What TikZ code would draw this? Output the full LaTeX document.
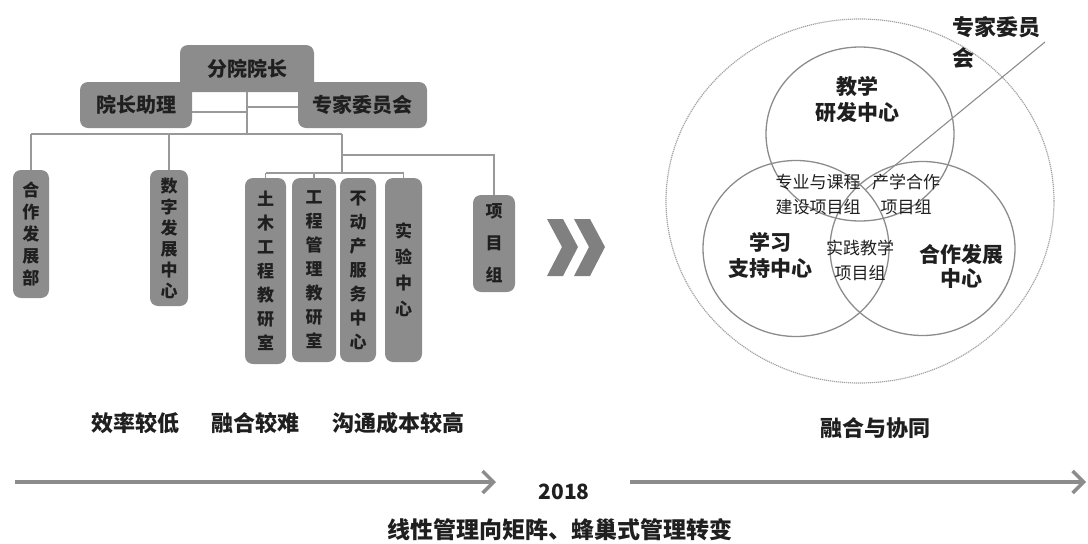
\documentclass[tikz,border=0pt]{standalone}
\usepackage{fontspec}
\setmainfont{Noto Sans CJK SC}
\usetikzlibrary{arrows.meta,shapes.geometric}
\definecolor{boxgray}{gray}{0.55}
\definecolor{linegray}{gray}{0.6}
\definecolor{ringgray}{gray}{0.55}
\definecolor{txtdark}{gray}{0.12}
\begin{document}
\begin{tikzpicture}[x=1pt,y=-1pt,
  box/.style={rectangle, rounded corners=8pt, fill=boxgray, inner sep=0pt, align=center,
    text=txtdark, font=\fontsize{20}{24}\selectfont\bfseries},
  vbox/.style={box, font=\fontsize{17}{24}\selectfont\bfseries},
  conn/.style={draw=linegray, line width=1.8pt},
  ring/.style={draw=ringgray, line width=1.3pt},
  outer/.style={draw=ringgray!80, line width=1.2pt, dash pattern=on 1.2pt off 0.8pt},
  biglab/.style={align=center, text=txtdark, font=\fontsize{21}{26}\selectfont\bfseries},
  smalllab/.style={align=center, text=txtdark, font=\fontsize{17}{25}\selectfont},
  caption/.style={text=txtdark, font=\fontsize{22}{26}\selectfont\bfseries},
  timeline/.style={draw=black!45, line width=3.5pt, -{Straight Barb[length=11pt,width=22pt]}},
  chev/.style={fill=black!50}
]
\useasboundingbox (0,0) rectangle (1088,544);

% ---------- left: linear organisation ----------
\node[box, minimum width=134pt, minimum height=47pt] (dean) at (247,68.5) {分院院长};
\node[box, minimum width=112pt, minimum height=46pt] (asst) at (136,105) {院长助理};
\node[box, minimum width=129pt, minimum height=46pt] (expert) at (362.5,105) {专家委员会};

\node[vbox, minimum width=36pt, minimum height=128pt, font=\fontsize{17}{22}\selectfont\bfseries] (coop) at (31,234) {合\\作\\发\\展\\部};
\node[vbox, minimum width=38pt, minimum height=136pt, font=\fontsize{17}{21}\selectfont\bfseries] (digi) at (169,238) {数\\字\\发\\展\\中\\心};
\node[vbox, minimum width=41pt, minimum height=186pt] (civil) at (265.5,271) {土\\木\\工\\程\\教\\研\\室};
\node[vbox, minimum width=44pt, minimum height=184pt] (mgmt) at (314,270) {工\\程\\管\\理\\教\\研\\室};
\node[vbox, minimum width=36pt, minimum height=184pt] (estate) at (358,270) {不\\动\\产\\服\\务\\中\\心};
\node[vbox, minimum width=37pt, minimum height=184pt, font=\fontsize{17}{26}\selectfont\bfseries] (lab) at (403.5,270) {实\\验\\中\\心};
\node[vbox, minimum width=42pt, minimum height=97pt, font=\fontsize{17}{32}\selectfont\bfseries] (proj) at (494,243.5) {项\\目\\组};

\coordinate (busL) at (31,134);
\coordinate (busM) at (247,134);
\coordinate (busR) at (342,134);
\coordinate (projturn) at (342,155);
\coordinate (subC) at (342,173);

\draw[conn] (dean.south) -- (busM);
\draw[conn] ([yshift=-7pt]asst.east) -- ([yshift=-7pt]asst.east -| dean.south);
\draw[conn] ([yshift=-2pt]expert.west) -- ([yshift=-2pt]expert.west -| dean.south);
\draw[conn] (busL) -- (busR);
\draw[conn] (busL) -- (coop.north);
\draw[conn] (digi.north |- busL) -- (digi.north);
\draw[conn] (busR) -- (subC);
\draw[conn] (civil.north |- subC) -- (lab.north |- subC);
\draw[conn] (civil.north |- subC) -- (civil.north);
\draw[conn] (mgmt.north |- subC) -- (mgmt.north);
\draw[conn] (lab.north |- subC) -- (lab.north);
\draw[conn] (projturn) -- (proj.north |- projturn) -- (proj.north);

% ---------- chevrons ----------
\fill[chev] (547,219) -- (563,219) -- (578,247) -- (563,276) -- (547,276) -- (562,247) -- cycle;
\fill[chev] (574,219) -- (590,219) -- (605,247) -- (590,276) -- (574,276) -- (589,247) -- cycle;

% ---------- right: matrix / honeycomb ----------
\draw[outer] (860,201) ellipse [x radius=194pt, y radius=182pt];
\draw[ring] (860,134) ellipse [x radius=94pt, y radius=87pt];
\draw[ring] (796,248.5) ellipse [x radius=93pt, y radius=88pt];
\draw[ring] (922.5,248.5) ellipse [x radius=92.5pt, y radius=87pt];

\coordinate (diagA) at (1045,42);
\coordinate (diagB) at (865,190);
\draw[draw=ringgray, line width=1.1pt] (diagA) -- (diagB);

\node[align=left, text=txtdark, font=\fontsize{22}{31}\selectfont\bfseries] (expertR) at (996.5,42.5) {专家委员\\会};
\node[biglab] (teach) at (857,100) {教学\\研发中心};
\node[biglab] (learn) at (770,255) {学习\\支持中心};
\node[biglab, font=\fontsize{21}{24}\selectfont\bfseries] (coopC) at (961,266) {合作发展\\中心};
\node[smalllab] (curr) at (818,194.5) {专业与课程\\建设项目组};
\node[smalllab] (indus) at (906,194.5) {产学合作\\项目组};
\node[smalllab] (pract) at (860,260.5) {实践教学\\项目组};

% ---------- captions ----------
\node[caption] (c1) at (135,423) {效率较低};
\node[caption] (c2) at (255,423) {融合较难};
\node[caption] (c3) at (398.5,423) {沟通成本较高};
\node[caption] (c4) at (875,428) {融合与协同};

% ---------- timeline ----------
\coordinate (t1s) at (15,482);
\coordinate (t1e) at (496,482);
\coordinate (t2s) at (630,482);
\coordinate (t2e) at (1086,482);
\draw[timeline] (t1s) -- (t1e);
\draw[timeline] (t2s) -- (t2e);
\node[caption, font=\fontsize{21}{24}\selectfont\bfseries] (year) at (564,492) {2018};
\node[caption, font=\fontsize{23}{26}\selectfont\bfseries] (shift) at (560,530) {线性管理向矩阵、蜂巢式管理转变};
\end{tikzpicture}
\end{document}
